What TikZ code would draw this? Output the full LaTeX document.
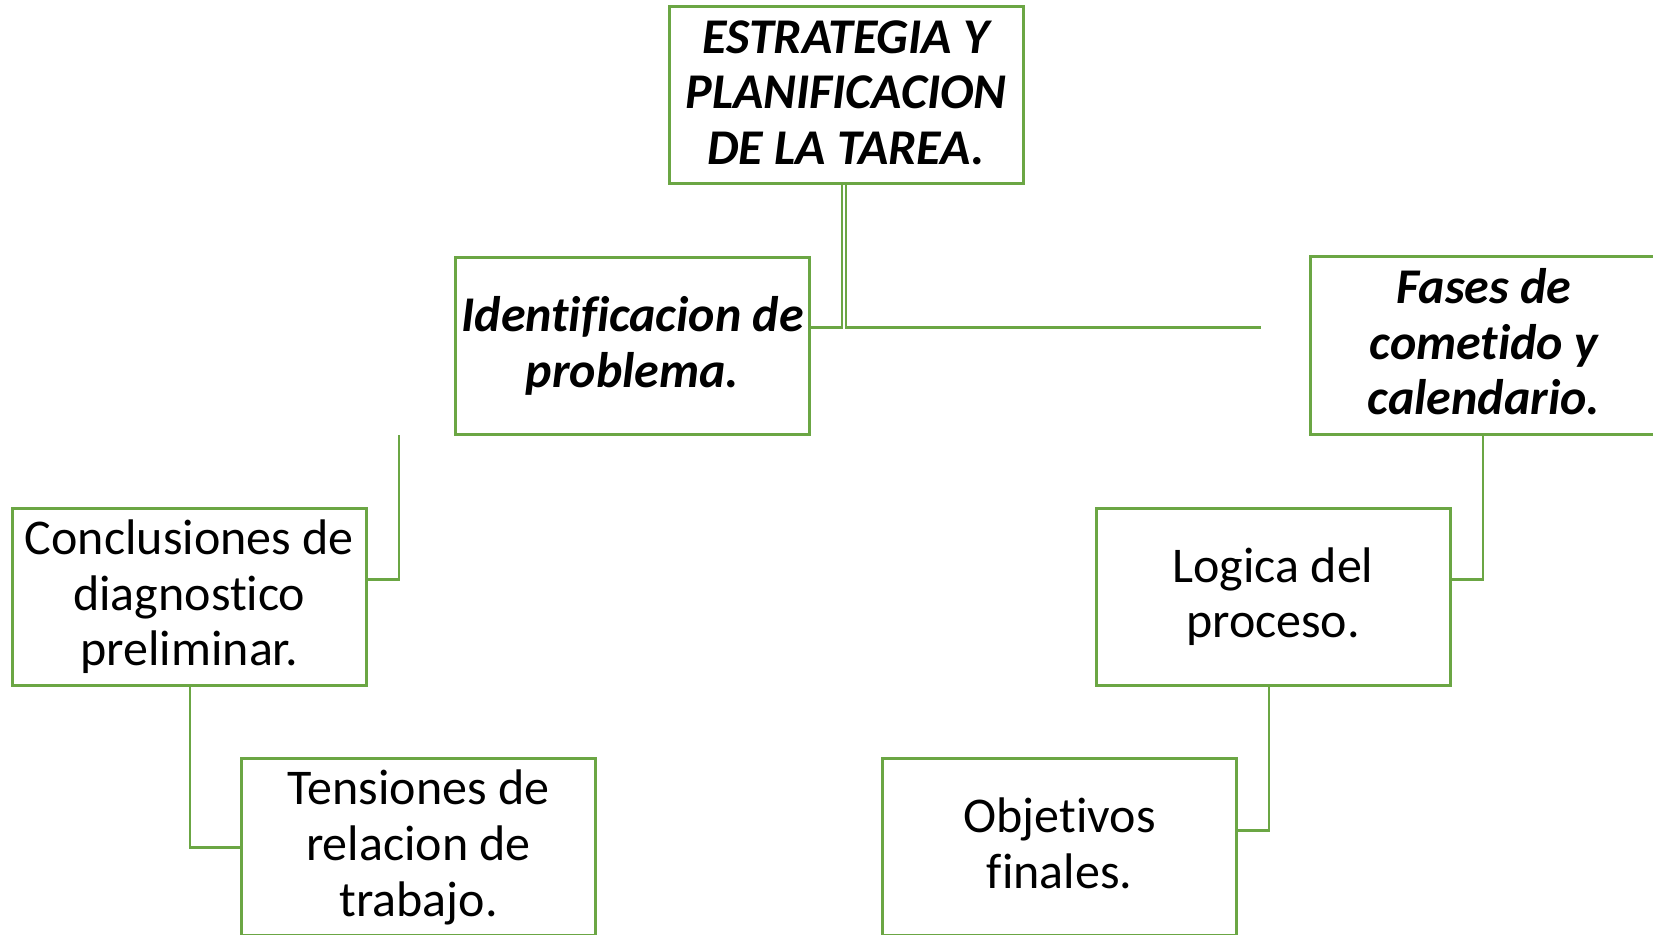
\documentclass[tikz,border=0pt]{standalone}
\usepackage{fontspec}
\setmainfont{Carlito}[Ligatures=NoCommon]
\definecolor{boxgreen}{HTML}{6BA644}
\begin{document}
\begin{tikzpicture}[x=0.5pt,y=-0.5pt,
  box/.style={draw=boxgreen, line width=1.5pt, fill=white, minimum width=177pt, minimum height=88.5pt,
    inner sep=0pt, align=center, font=\fontsize{25}{27.8}\selectfont, text=black},
  three/.style={text height=69.1pt, text depth=0pt},
  two/.style={text height=41.3pt, text depth=0pt},
  bi/.style={font=\fontsize{25}{27.8}\selectfont\bfseries\itshape},
  conn/.style={draw=boxgreen, line width=1.4pt}]
\useasboundingbox (0,0) rectangle (1653,935);
\fill[white] (0,0) rectangle (1653,935);
% boxes
\node[box,bi,three] (top) at (846,95.5) {ESTRATEGIA Y\\PLANIFICACION\\DE LA TAREA.};
\node[box,bi,two] (ident) at (632.5,346) {Identificacion de\\problema.};
\node[box,bi,three,minimum width=174pt] (fases) at (1484,345.5) {Fases de\\cometido y\\calendario.};
\node[box,three] (concl) at (189.3,596.5) {Conclusiones de\\diagnostico\\preliminar.};
\node[box,three] (tens) at (418.5,847) {Tensiones de\\relacion de\\trabajo.};
\node[box,two] (logica) at (1273,596.5) {Logica del\\proceso.};
\node[box,two] (objet) at (1059.5,847) {Objetivos\\finales.};
% junction coordinates
\coordinate (jl) at (842,327.5);
\coordinate (jr) at (846,327.5);
\coordinate (jre) at (1261,327.5);
\coordinate (lt) at (399,435);
\coordinate (lj) at (399,579.5);
\coordinate (cj) at (190,847.5);
\coordinate (fj) at (1483,579.5);
\coordinate (oj) at (1269,830.5);
% connectors
\draw[conn] (top.south -| jl) -- (jl) -- (ident.east |- jl);
\draw[conn] (top.south -| jr) -- (jr) -- (jre);
\draw[conn] (lt) -- (lj) -- (concl.east |- lj);
\draw[conn] (concl.south -| cj) -- (cj) -- (tens.west |- cj);
\draw[conn] (fases.south -| fj) -- (fj) -- (logica.east |- fj);
\draw[conn] (logica.south -| oj) -- (oj) -- (objet.east |- oj);
\end{tikzpicture}
\end{document}
